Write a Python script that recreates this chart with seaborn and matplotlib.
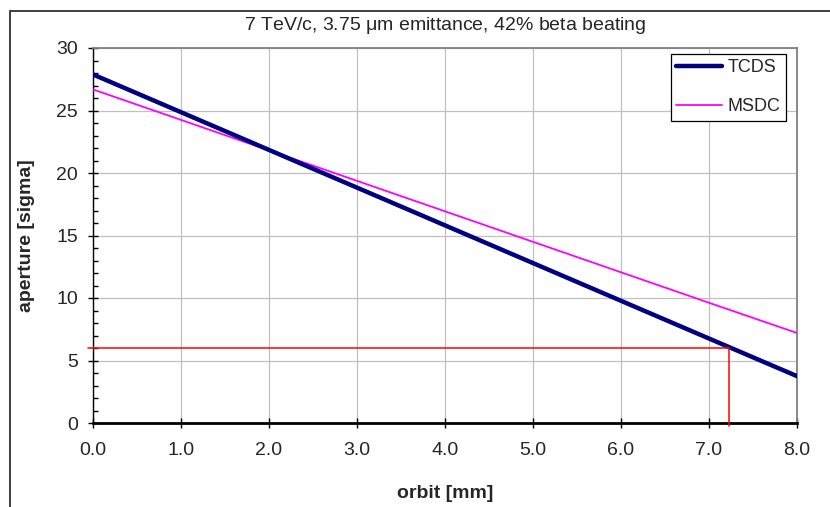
import matplotlib
matplotlib.use("Agg")
import matplotlib.pyplot as plt
import seaborn as sns
import pandas as pd
from matplotlib.ticker import MultipleLocator, FormatStrFormatter
from matplotlib.patches import Rectangle

orbit = [0.0, 1.0, 2.0, 3.0, 4.0, 5.0, 6.0, 7.0, 8.0]
tcds = [27.9, 24.88, 21.86, 18.84, 15.82, 12.8, 9.78, 6.76, 3.75]
msdc = [26.7, 24.26, 21.82, 19.38, 16.94, 14.5, 12.06, 9.62, 7.2]
limit_orbit = [-0.05, 7.23, 7.23]
limit_aperture = [6.0, 6.0, -0.25]
title = "7 TeV/c, 3.75 $\\mu$m emittance, 42% beta beating"

sns.set_style("white")
plt.rcParams['font.family'] = ['Liberation Sans', 'DejaVu Sans']
plt.rcParams['mathtext.fontset'] = 'custom'
plt.rcParams['mathtext.rm'] = 'Liberation Sans'
plt.rcParams['mathtext.it'] = 'Liberation Sans'

W, H = 830, 507
fig = plt.figure(figsize=(W / 100, H / 100), dpi=100)
L, R, T, B = 92.5, 797, 48, 423
ax = fig.add_axes([L / W, 1 - B / H, (R - L) / W, (B - T) / H])

df = pd.DataFrame({"orbit": orbit + orbit,
                   "aperture": tcds + msdc,
                   "series": ["TCDS"] * len(orbit) + ["MSDC"] * len(orbit)})

sns.lineplot(data=df[df.series == "TCDS"], x="orbit", y="aperture", color="#000080",
             linewidth=3.2, ax=ax, label="TCDS", zorder=4)
sns.lineplot(data=df[df.series == "MSDC"], x="orbit", y="aperture", color="#FF00FF",
             linewidth=1.3, ax=ax, label="MSDC", zorder=3)
ax.plot(limit_orbit, limit_aperture, color="#FF0000", linewidth=1.1, zorder=5, clip_on=False)

ax.set_xlim(0, 8)
ax.set_ylim(0, 30)
ax.xaxis.set_major_locator(MultipleLocator(1))
ax.xaxis.set_major_formatter(FormatStrFormatter("%.1f"))
ax.yaxis.set_major_locator(MultipleLocator(5))
ax.yaxis.set_minor_locator(MultipleLocator(1))
ax.grid(True, which="major", color="#C0C0C0", linewidth=0.9)
ax.set_axisbelow(True)

for s in ["top", "right"]:
    ax.spines[s].set_color("#808080")
    ax.spines[s].set_linewidth(1.3)
for s in ["left", "bottom"]:
    ax.spines[s].set_color("black")
    ax.spines[s].set_linewidth(1.0)
ax.spines["bottom"].set_linewidth(2.0)

ax.tick_params(axis="both", which="major", direction="inout", length=7, width=1,
               labelsize=14, color="black", left=True, bottom=True)
ax.tick_params(axis="y", which="minor", direction="in", length=3.8, width=1,
               color="black", left=True)
ax.tick_params(axis="y", which="major", pad=7)
ax.tick_params(axis="x", which="major", pad=10)

ax.set_xlabel("orbit [mm]", fontsize=14, fontweight="bold")
ax.set_ylabel("aperture [sigma]", fontsize=14, fontweight="bold")
ax.xaxis.set_label_coords((445 - L) / (R - L), -(493 - B) / (B - T))
ax.yaxis.set_label_coords(-(L - 27) / (R - L), 0.5)
ax.xaxis.label.set_va("center")
ax.yaxis.label.set_va("center")

fig.text(445 / W, 1 - 25 / H, title, ha="center", va="center", fontsize=14)

leg = ax.legend(loc="upper right", bbox_to_anchor=(786 / W, 1 - 54 / H),
                bbox_transform=fig.transFigure, frameon=True, fancybox=False,
                fontsize=13, handlelength=2.55, handletextpad=0.3,
                borderpad=0.3, labelspacing=1.2, borderaxespad=0)
leg.get_frame().set_edgecolor("black")
leg.get_frame().set_linewidth(0.9)
leg.get_frame().set_alpha(1)

fig.patches.append(Rectangle((10 / W, -0.1), 1.0, 1 - 11 / H + 0.1, transform=fig.transFigure,
                             fill=False, edgecolor="#303030", linewidth=1.3))

fig.savefig("out.png", dpi=100)
